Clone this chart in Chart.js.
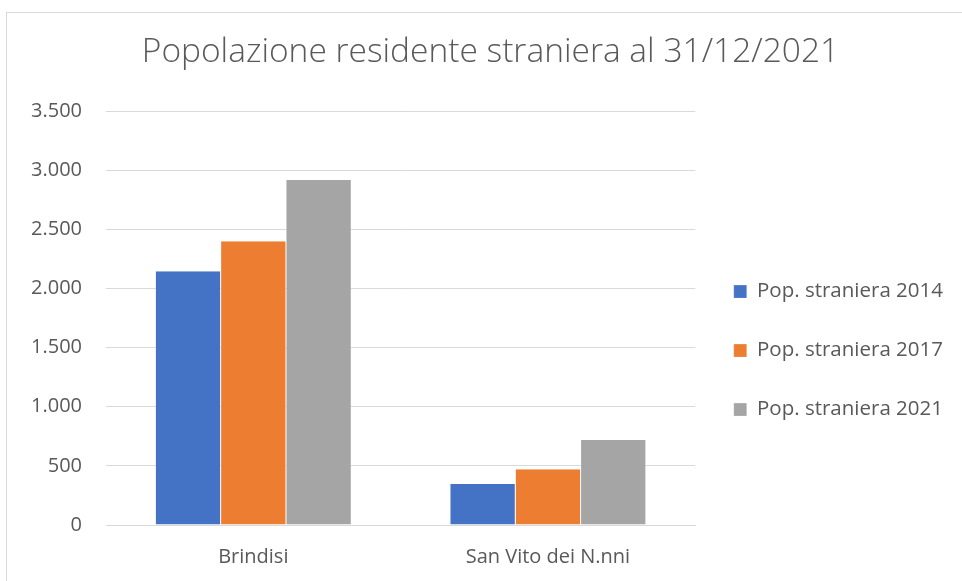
<!DOCTYPE html>
<html>
<head>
<meta charset="utf-8">
<script src="https://cdn.jsdelivr.net/npm/chart.js@4.4.0/dist/chart.umd.min.js"></script>
<style>
  html, body { margin: 0; padding: 0; background: #fff; }
  #wrap { position: relative; width: 962px; height: 581px; overflow: hidden; }
  #frame { position: absolute; left: 6px; top: 12px; width: 1000px; height: 700px; border: 1px solid #d9d9d9; box-sizing: border-box; }
  canvas { position: absolute; left: 0; top: 0; }
</style>
</head>
<body>
<div id="wrap">
  <div id="frame"></div>
  <canvas id="chart" width="962" height="581"></canvas>
</div>
<script>
// dati
const categories = ['Brindisi', 'San Vito dei N.nni'];
const seriesNames = ['Pop. straniera 2014', 'Pop. straniera 2017', 'Pop. straniera 2021'];
const pop2014 = [2146, 346];
const pop2017 = [2399, 472];
const pop2021 = [2918, 719];
const colors = ['#4472C4', '#ED7D31', '#A5A5A5'];

const fontFam = '"Open Sans", "Noto Sans", sans-serif';
const grey = '#595959';

let ctx = document.getElementById('chart').getContext('2d');

let chart = new Chart(ctx, {
    type: 'bar',
    data: {
        labels: categories,
        datasets: [pop2014, pop2017, pop2021].map((vals, i) => ({
            label: seriesNames[i],
            data: vals,
            backgroundColor: colors[i],
            borderColor: '#ffffff',
            borderWidth: {left: 0.5, right: 0.5, top: 0, bottom: 0},
            borderSkipped: false
        }))
    },
    options: {
        responsive: false,
        animation: false,
        layout: {
            padding: {left: 28, right: 9, top: 0, bottom: -8}
        },
        datasets: {
            bar: {categoryPercentage: 0.665, barPercentage: 1.0}
        },
        plugins: {
            title: {
                display: true,
                text: 'Popolazione residente straniera al 31/12/2021',
                color: grey,
                font: {family: fontFam, size: 33.5, weight: 300},
                padding: {top: 32, bottom: 39}
            },
            legend: {
                position: 'right',
                align: 'center',
                // titolo vuoto solo per spostare la legenda in basso
                title: {display: true, text: ' ', font: {size: 1}, padding: {top: 111, bottom: 0}},
                labels: {
                    color: grey,
                    font: {family: fontFam, size: 20.5},
                    boxWidth: 13,
                    boxHeight: 13,
                    padding: 38.5
                }
            },
            tooltip: {enabled: false}
        },
        scales: {
            x: {
                grid: {display: false, drawTicks: false},
                border: {display: true, color: '#d9d9d9', width: 1},
                ticks: {color: grey, font: {family: fontFam, size: 20}, padding: 20}
            },
            y: {
                min: 0,
                max: 3500,
                afterFit: function (scale) { scale.width = 78; },
                grid: {color: '#d9d9d9', lineWidth: 1, drawTicks: false},
                border: {display: false},
                ticks: {
                    stepSize: 500,
                    color: grey,
                    font: {family: fontFam, size: 20},
                    padding: 24,
                    callback: function (v) { return v.toLocaleString('it-IT'); }
                }
            }
        }
    }
});

// la legenda a destra viene limitata a 1/4 della larghezza: la lascio più larga
const legendUpdate = chart.legend.update;
chart.legend.update = function (maxWidth, maxHeight, margins) {
    return legendUpdate.call(this, 320, maxHeight, margins);
};
chart.update();
</script>
</body>
</html>
